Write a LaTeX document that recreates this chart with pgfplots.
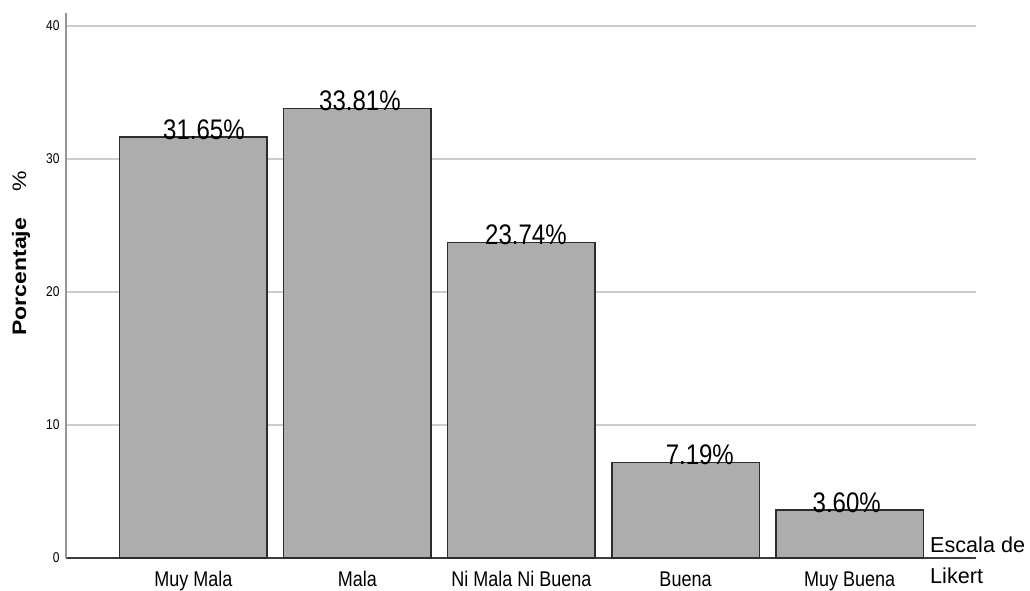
\documentclass[border=0pt]{standalone}
\usepackage{fontspec}
\setmainfont{Liberation Sans}
\usepackage{pgfplots}
\pgfplotsset{compat=1.18}
\usepackage{pgfplotstable}

% text in this chart is set slightly tall and narrow
\newcommand{\vs}[1]{\scalebox{1}[1.18]{#1}}

\definecolor{barfill}{RGB}{173,173,173}
\definecolor{baredge}{RGB}{45,45,45}
\definecolor{gridgray}{RGB}{205,205,205}
\definecolor{yaxisgray}{RGB}{150,150,150}
\definecolor{xaxisdark}{RGB}{60,60,60}

% percentage per Likert category
\pgfplotstableread{
x y
0 31.65
1 33.81
2 23.74
3 7.19
4 3.60
}\bars

% value labels, placed over the bars
\pgfplotstableread{
x y
0.064 31.65
1.015 33.81
2.027 23.74
3.087 7.19
3.983 3.60
}\barlabels

\begin{document}
\begin{tikzpicture}
\useasboundingbox (0,0) rectangle (1030bp,591bp);
\begin{axis}[
  at={(66bp,33bp)}, anchor=south west,
  scale only axis, width=910bp, height=545.3bp,
  xmin=-0.777, xmax=4.771, ymin=0, ymax=41,
  axis x line=bottom, axis y line=left,
  x axis line style={-, draw=xaxisdark, line width=1.4bp},
  y axis line style={-, draw=yaxisgray, line width=1.4bp},
  major tick length=0pt,
  xtick={0,1,2,3,4},
  xticklabels={\vs{Muy Mala},\vs{Mala},\vs{Ni Mala Ni Buena},\vs{Buena},\vs{Muy Buena}},
  xticklabel style={font=\fontsize{18bp}{18bp}\selectfont, anchor=base, yshift=-29bp},
  ytick={0,10,20,30,40},
  yticklabel={\vs{\pgfmathprintnumber{\tick}}},
  /pgf/number format/assume math mode=true,
  yticklabel style={font=\fontsize{12bp}{12bp}\selectfont, anchor=east, xshift=-3bp},
  ymajorgrids,
  major grid style={draw=gridgray, line width=1.3bp},
  clip=false,
]
\addplot[ybar, bar width=147.5bp, fill=barfill, draw=baredge, line width=1.5bp]
  table[x=x, y=y] {\bars};
\addplot[draw=none, mark=none, point meta=y,
  nodes near coords={\vs{\pgfmathprintnumber[fixed, fixed zerofill, precision=2]{\pgfplotspointmeta}\%}},
  every node near coord/.style={font=\fontsize{24bp}{24bp}\selectfont, anchor=base, yshift=-2.5bp, text=black}]
  table[x=x, y=y] {\barlabels};
\end{axis}
\node[rotate=90, anchor=base, inner sep=0pt] at (26bp,337.5bp)
  {\scalebox{1.18}[1]{\fontsize{19.5bp}{19.5bp}\selectfont\bfseries Porcentaje\hspace{22bp}\mdseries\%}};
\node[anchor=base west, inner sep=0pt, font=\fontsize{21.6bp}{21.6bp}\selectfont] at (930bp,39bp) {Escala de};
\node[anchor=base west, inner sep=0pt, font=\fontsize{21.6bp}{21.6bp}\selectfont] at (930bp,8bp) {Likert};
\end{tikzpicture}
\end{document}
